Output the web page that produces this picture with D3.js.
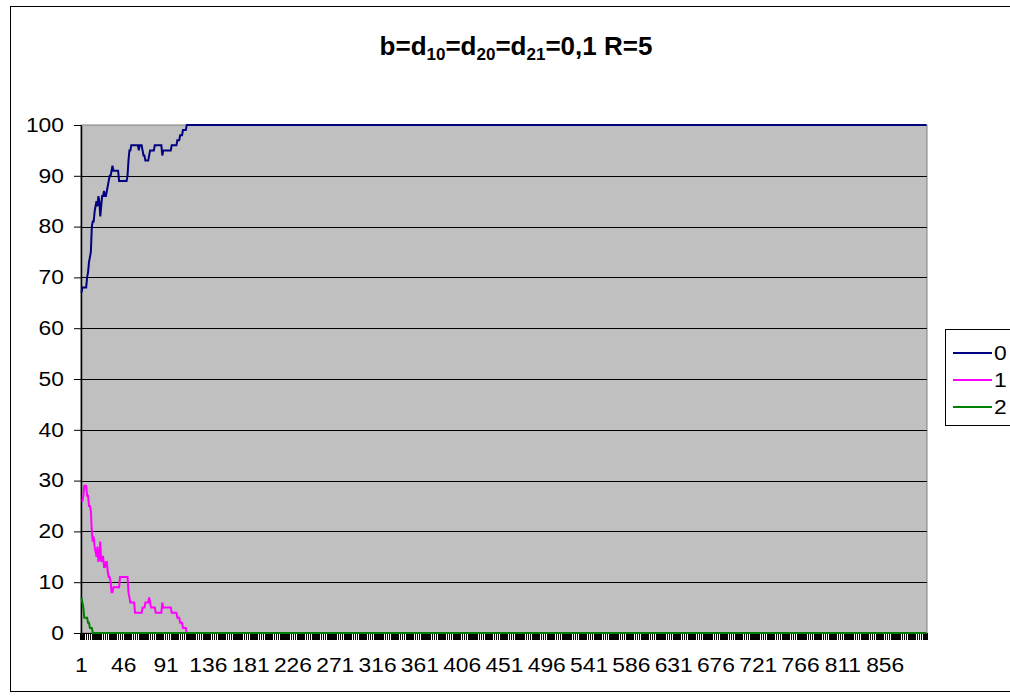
<!DOCTYPE html>
<html>
<head>
<meta charset="utf-8">
<script src="https://cdn.jsdelivr.net/npm/d3@7"></script>
<style>
  body { margin: 0; background: #ffffff; }
  svg { display: block; font-family: Arial, "Liberation Sans", sans-serif; }
</style>
</head>
<body>
<svg id="chart" width="1010" height="698"></svg>
<script>
// ---- data ----------------------------------------------------------
const categoryCount = 900;
const xTickLabels = [1, 46, 91, 136, 181, 226, 271, 316, 361, 406, 451, 496, 541, 586, 631, 676, 721, 766, 811, 856];
const yTickValues = [0, 10, 20, 30, 40, 50, 60, 70, 80, 90, 100];
const seriesNames = ["0", "1", "2"];
const seriesColors = ["#000080", "#FF00FF", "#008000"];

// Step series: [first category, value]; each value holds until the next entry.
const steps0 = [[1,67],[2,68],[7,70],[8,71],[9,73],[10,74],[11,75],[12,80],[13,81],[15,83],[16,84],[17,85],[18,84],[19,86],[20,85],[21,82],[22,84],[23,86],[25,87],[26,86],[28,87],[29,88],[30,89],[31,90],[33,91],[34,92],[35,91],[41,89],[50,90],[51,93],[52,95],[54,96],[62,95],[63,96],[66,95],[67,94],[69,93],[73,94],[74,95],[79,96],[87,94],[88,95],[97,96],[103,97],[106,98],[109,99],[113,100]];
const steps1 = [[1,26],[3,27],[4,29],[7,27],[9,25],[11,24],[12,20],[13,18],[14,19],[15,17],[16,16],[17,15],[18,17],[19,14],[20,15],[21,18],[22,14],[23,15],[25,13],[27,14],[29,12],[30,11],[32,10],[33,8],[35,9],[42,11],[51,8],[52,7],[53,6],[58,4],[66,5],[69,6],[73,7],[74,6],[75,5],[80,4],[87,6],[88,5],[97,4],[103,3],[106,2],[109,1],[113,0]];
const steps2 = [[1,7],[2,6],[3,5],[4,3],[8,2],[10,1],[13,0]];

// ---- layout --------------------------------------------------------
const plot = { left: 81, right: 927, top: 125, bottom: 633 };
const axisFont = 19.5;
const axisStretch = 1.17;   // axis and legend labels are set wide
const svg = d3.select("#chart");

const categories = d3.range(1, categoryCount + 1);
const x = d3.scaleBand().domain(categories).range([plot.left, plot.right]).padding(0);
const y = d3.scaleLinear().domain([0, 100]).range([plot.bottom, plot.top]);
const cx = c => x(c) + x.bandwidth() / 2;

function expand(steps) {
  const out = [];
  let k = 0;
  for (const c of categories) {
    while (k + 1 < steps.length && steps[k + 1][0] <= c) k++;
    out.push({ c, v: steps[k][1] });
  }
  return out;
}
const seriesData = [steps0, steps1, steps2].map(expand);

// chart area border
svg.append("rect")
  .attr("x", 10.5).attr("y", 6.5)
  .attr("width", 1030).attr("height", 685)
  .attr("fill", "#ffffff").attr("stroke", "#000000").attr("stroke-width", 1);

// title with subscripts
const title = svg.append("text")
  .attr("x", 516).attr("y", 55)
  .attr("text-anchor", "middle")
  .attr("font-size", 26).attr("font-weight", "bold").attr("fill", "#000");
const titleParts = [["b=d", false], ["10", true], ["=d", false], ["20", true], ["=d", false], ["21", true], ["=0,1 R=5", false]];
titleParts.forEach(([t, sub], i) => {
  const prevSub = i > 0 && titleParts[i - 1][1];
  const ts = title.append("tspan").text(t);
  if (sub) ts.attr("font-size", 17).attr("dy", 5);
  else if (prevSub) ts.attr("dy", -5);
});

// plot area
svg.append("rect")
  .attr("x", plot.left).attr("y", plot.top)
  .attr("width", plot.right - plot.left).attr("height", plot.bottom - plot.top)
  .attr("fill", "#C0C0C0").attr("stroke", "#808080").attr("stroke-width", 1);

// gridlines
svg.append("g")
  .selectAll("line")
  .data(yTickValues.filter(v => v > 0 && v < 100))
  .join("line")
  .attr("x1", plot.left).attr("x2", plot.right)
  .attr("y1", d => Math.round(y(d)) + 0.5).attr("y2", d => Math.round(y(d)) + 0.5)
  .attr("stroke", "#000").attr("stroke-width", 1);

// y axis
const yAxis = svg.append("g")
  .attr("transform", `translate(${plot.left},0)`)
  .call(d3.axisLeft(y).tickValues(yTickValues).tickSize(7).tickPadding(9).tickSizeOuter(0));
yAxis.select(".domain").attr("stroke", "#000").attr("stroke-width", 1.5);
yAxis.selectAll(".tick line").attr("stroke", "#000");
yAxis.selectAll("text")
  .attr("x", 0)
  .attr("transform", `translate(-17,0) scale(${axisStretch},1)`)
  .attr("font-size", axisFont)
  .attr("font-family", "Arial, 'Liberation Sans', sans-serif")
  .attr("fill", "#000");

// x axis: tick marks every second category boundary, labels every 45th category
const xAxisG = svg.append("g").attr("transform", `translate(0,${plot.bottom})`);
xAxisG.append("g")
  .attr("shape-rendering", "crispEdges")
  .selectAll("line")
  .data(d3.range(0, categoryCount + 1, 2))
  .join("line")
  .attr("x1", i => plot.left + i * x.step())
  .attr("x2", i => plot.left + i * x.step())
  .attr("y1", 0).attr("y2", 7)
  .attr("stroke", "#000").attr("stroke-width", 1.4);
xAxisG.append("line")
  .attr("x1", plot.left).attr("x2", plot.right)
  .attr("y1", 0.5).attr("y2", 0.5)
  .attr("stroke", "#000");
xAxisG.selectAll("text.xl")
  .data(xTickLabels)
  .join("text")
  .attr("class", "xl")
  .attr("transform", d => `translate(${cx(d)},38.5) scale(${axisStretch},1)`)
  .attr("text-anchor", "middle").attr("font-size", axisFont).attr("fill", "#000")
  .text(d => d);

// series lines
const line = d3.line().x(d => cx(d.c)).y(d => y(d.v));
svg.append("g")
  .selectAll("path")
  .data(seriesData)
  .join("path")
  .attr("d", line)
  .attr("fill", "none")
  .attr("stroke", (d, i) => seriesColors[i])
  .attr("stroke-width", 2)
  .attr("stroke-linejoin", "miter");

// legend
const legend = svg.append("g");
legend.append("rect")
  .attr("x", 945.5).attr("y", 329.5).attr("width", 100).attr("height", 96)
  .attr("fill", "#fff").attr("stroke", "#000");
seriesNames.forEach((name, i) => {
  const ly = 353 + i * 27;
  legend.append("line")
    .attr("x1", 953).attr("x2", 992).attr("y1", ly).attr("y2", ly)
    .attr("stroke", seriesColors[i]).attr("stroke-width", 2);
  legend.append("text")
    .attr("transform", `translate(994,${ly}) scale(${axisStretch},1)`)
    .attr("dy", "0.35em")
    .attr("font-size", axisFont).attr("fill", "#000").text(name);
});
</script>
</body>
</html>
